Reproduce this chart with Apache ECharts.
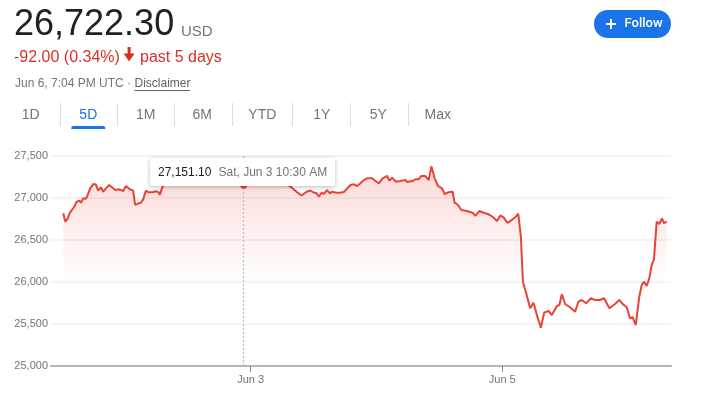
<!DOCTYPE html>
<html><head><meta charset="utf-8">
<script src="https://cdn.jsdelivr.net/npm/echarts@6/dist/echarts.min.js"></script>
<style>html,body{margin:0;padding:0;background:#fff}#c{width:704px;height:396px}</style>
</head><body><div id="c"></div>
<script>
// hours relative to Jun 3 00:00
const hours = [-35.75,-35.37,-34.91,-34.48,-34.10,-33.66,-33.20,-32.70,-32.38,-31.94,-31.43,-31.10,-30.61,-30.04,-29.52,-29.09,-28.57,-28.13,-27.62,-26.99,
  -26.48,-25.85,-25.20,-24.76,-24.32,-23.81,-23.49,-23.05,-22.42,-22.04,-21.39,-20.95,-20.51,-20.00,-19.49,-18.72,-18.10,-17.58,-17.33,-16.95,
  -16.19,-14.86,-13.33,-11.81,-10.29,-8.76,-7.24,-5.71,-4.19,-2.67,-1.33,0.00,1.52,3.05,4.57,6.10,7.62,8.86,9.71,10.67,
  11.43,12.00,12.57,13.01,13.52,13.96,14.61,15.10,15.56,16.38,17.14,17.90,18.42,19.05,19.68,20.32,20.95,21.58,22.23,23.18,
  23.81,24.44,25.20,26.04,26.48,26.99,27.75,28.57,29.52,29.85,30.80,31.43,32.06,32.57,33.33,33.96,34.48,35.10,35.75,36.51,
  37.01,37.77,38.53,38.91,39.56,40.19,40.95,41.71,42.34,42.86,43.62,44.44,45.39,46.15,46.99,47.62,48.25,48.99,49.71,50.48,
  51.05,51.56,51.94,52.57,53.33,53.96,54.61,55.37,56.00,56.82,57.47,58.42,58.91,59.37,60.00,60.95,61.90,62.53,63.18,64.00,
  64.90,65.71,66.67,67.43,68.44,69.52,70.34,70.99,71.75,72.38,72.90,73.47,74.15,74.61,75.05,75.56,76.06,76.51,76.95,77.47,
  77.96,78.48,78.86,79.37];
const prices = [26818,26718,26758,26825,26812,26896,26956,26968,26944,26996,26990,27036,27115,27167,27160,27087,27127,27075,27115,27155,
  27127,27095,27104,27095,27083,27143,27163,27104,27087,26917,26937,26944,26984,27087,27068,27068,27080,27068,27036,27115,
  27190,27238,27262,27226,27274,27250,27298,27262,27214,27179,27151.10,27190,27226,27250,27214,27179,27135,27069,27030,27075,
  27089,27065,27056,27015,27063,27048,27095,27056,27075,27063,27063,27075,27115,27155,27163,27143,27175,27214,27234,27234,
  27202,27175,27234,27262,27206,27242,27194,27202,27214,27190,27202,27223,27223,27262,27262,27214,27377,27234,27143,27115,
  27048,27068,27075,26944,26917,26857,26849,26837,26825,26786,26845,26825,26806,26777,26726,26792,26770,26702,26734,26770,
  26813,26539,26004,25866,25687,25754,25607,25456,25635,25655,25607,25714,25726,25854,25738,25699,25646,25765,25786,25746,
  25806,25786,25786,25806,25687,25738,25786,25738,25699,25568,25580,25488,25825,25964,26004,25952,26044,26202,26270,26718,
  26690,26758,26699,26722.30];
const xTickHours = [0, 48];
const xTickLabels = ['Jun 3', 'Jun 5'];
const yMin = 25000, yMax = 27500, yStep = 500;
const hoverHour = -1.33, hoverPrice = 27151.10, hoverLabel = 'Sat, Jun 3 10:30 AM';
const lastPrice = '26,722.30', currency = 'USD';
const changeText = '-92.00 (0.34%)', periodText = 'past 5 days';
const stampText = 'Jun 6, 7:04 PM UTC', disclaimerText = 'Disclaimer';
const ranges = ['1D','5D','1M','6M','YTD','1Y','5Y','Max'];
const activeRange = '5D';

const FONT = 'Arial, "Liberation Sans", sans-serif';
const RED = '#ea4335';
const GRAY = '#70757a';
const chart = echarts.init(document.getElementById('c'), null, {renderer: 'canvas'});

function txt(x, y, text, size, color, align, extra) {
  return Object.assign({type: 'text', x: x, y: y, z: 100, silent: true,
    style: {text: text, font: size + 'px ' + FONT, fill: color,
      align: align || 'left', textAlign: align || 'left', verticalAlign: 'middle', textVerticalAlign: 'middle'}}, extra || {});
}

const tabCenters = [30.7, 88.3, 145.7, 202.3, 262.3, 321.7, 378.3, 437.7];
const graphics = [];
graphics.push(txt(14, 25, lastPrice, 36, '#202124'));
graphics.push(txt(181, 31.5, currency, 15, GRAY));
graphics.push(txt(14, 57.5, changeText, 16, '#d93025'));
graphics.push({type: 'polygon', z: 100, silent: true, shape: {points: [[127.6,47],[130.6,47],[130.6,53.5],[134.6,53.5],[129.1,61.5],[123.6,53.5],[127.6,53.5]]}, style: {fill: '#d93025'}});
graphics.push(txt(140, 57.5, periodText, 16, '#d93025'));
graphics.push(txt(15, 84, stampText + ' \u00b7 ', 12, GRAY));
graphics.push(txt(134.5, 84, disclaimerText, 12, '#5f6368'));
graphics.push({type: 'line', z: 100, silent: true, shape: {x1: 134.5, y1: 90.5, x2: 190, y2: 90.5}, style: {stroke: '#5f6368', lineWidth: 1}});
// follow button
graphics.push({type: 'rect', z: 100, silent: true, shape: {x: 594, y: 10, width: 77, height: 28, r: 14}, style: {fill: '#1a73e8'}});
graphics.push({type: 'line', z: 101, silent: true, shape: {x1: 606, y1: 24, x2: 616, y2: 24}, style: {stroke: '#fff', lineWidth: 2}});
graphics.push({type: 'line', z: 101, silent: true, shape: {x1: 611, y1: 19, x2: 611, y2: 29}, style: {stroke: '#fff', lineWidth: 2}});
graphics.push({type: 'text', x: 624.5, y: 24, z: 101, silent: true, style: {text: 'Follow', font: '500 13px Roboto, ' + FONT, fill: '#fff', align: 'left', textAlign: 'left', verticalAlign: 'middle', textVerticalAlign: 'middle'}});
// range tabs
ranges.forEach(function (r, i) {
  const active = r === activeRange;
  graphics.push(txt(tabCenters[i], 115.5, r, 14, active ? '#1a73e8' : GRAY, 'center'));
  if (active) {
    graphics.push({type: 'rect', z: 100, silent: true, shape: {x: tabCenters[i] - 17, y: 126, width: 34, height: 3, r: [2, 2, 0, 0]}, style: {fill: '#1a73e8'}});
  }
  if (i < ranges.length - 1) {
    const sx = Math.round((tabCenters[i] + tabCenters[i + 1]) / 2) + 0.5;
    graphics.push({type: 'line', z: 100, silent: true, shape: {x1: sx, y1: 103, x2: sx, y2: 126}, style: {stroke: '#dadce0', lineWidth: 1}});
  }
});
// tooltip box
graphics.push({type: 'rect', z: 200, silent: true, shape: {x: 150, y: 158, width: 185, height: 28, r: 2},
  style: {fill: '#fff', shadowBlur: 4, shadowColor: 'rgba(0,0,0,0.28)', shadowOffsetY: 1}});
graphics.push(Object.assign(txt(158, 172.3, hoverPrice.toLocaleString('en-US', {minimumFractionDigits: 2, maximumFractionDigits: 2}), 12, '#202124'), {z: 201}));
graphics.push(Object.assign(txt(218.5, 172.3, hoverLabel, 12, GRAY), {z: 201}));

const option = {
  animation: false,
  backgroundColor: '#fff',
  grid: {left: 51, right: 33, top: 156, bottom: 30, containLabel: false},
  xAxis: {
    type: 'value', min: -38.1, max: 80.2,
    axisLine: {onZero: false, lineStyle: {color: '#b4b4b9', width: 2}},
    axisTick: {customValues: xTickHours, length: 6, lineStyle: {color: '#80868b', width: 1}},
    axisLabel: {customValues: xTickHours, margin: 8, color: GRAY, fontSize: 11, fontFamily: FONT,
      formatter: function (v) { const k = xTickHours.indexOf(v); return k >= 0 ? xTickLabels[k] : ''; }},
    splitLine: {show: false}
  },
  yAxis: {
    type: 'value', min: yMin, max: yMax, interval: yStep,
    axisLine: {show: false, onZero: false}, axisTick: {show: false},
    axisLabel: {margin: 3, color: GRAY, fontSize: 11, fontFamily: FONT,
      formatter: function (v) { return v.toLocaleString('en-US'); }},
    splitLine: {lineStyle: {color: '#f4f4f4', width: 2}}
  },
  series: [{
    type: 'line',
    data: hours.map(function (h, i) { return [h, prices[i]]; }),
    showSymbol: false, symbol: 'none', smooth: false,
    lineStyle: {color: RED, width: 2},
    areaStyle: {origin: 26000, color: {type: 'linear', x: 0, y: 160, x2: 0, y2: 282, global: true,
      colorStops: [{offset: 0, color: 'rgba(234,67,53,0.30)'}, {offset: 1, color: 'rgba(234,67,53,0)'}]}},
    markLine: {silent: true, symbol: ['none', 'none'], label: {show: false},
      lineStyle: {type: [2, 2], color: '#bdbdbd', width: 1.2},
      data: [{xAxis: hoverHour}]},
    markPoint: {silent: true, symbol: 'circle', symbolSize: 7, label: {show: false},
      itemStyle: {color: RED},
      data: [{coord: [hoverHour, hoverPrice]}]}
  }],
  graphic: graphics
};
chart.setOption(option);
</script>
</body></html>
